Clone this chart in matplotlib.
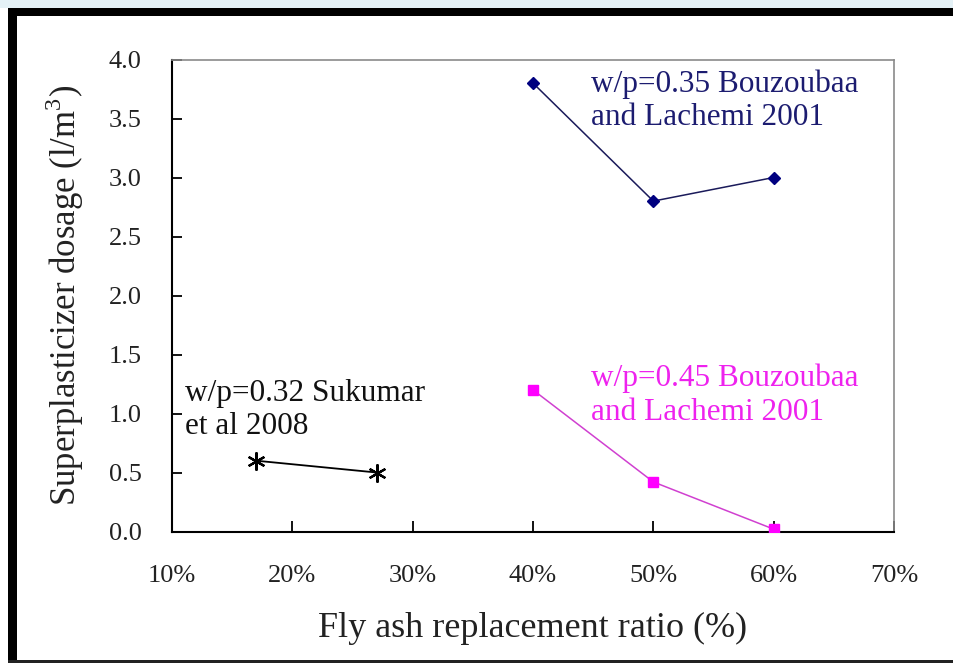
import matplotlib
matplotlib.use("Agg")
import matplotlib.pyplot as plt
from matplotlib.patches import Rectangle

# ---- data ----
sukumar_x = [0.17, 0.27]
sukumar_y = [0.60, 0.50]
bz035_x = [0.40, 0.50, 0.60]
bz035_y = [3.80, 2.80, 3.00]
bz045_x = [0.40, 0.50, 0.60]
bz045_y = [1.20, 0.42, 0.02]
xticks = [0.1, 0.2, 0.3, 0.4, 0.5, 0.6, 0.7]
xtick_labels = ["10%", "20%", "30%", "40%", "50%", "60%", "70%"]
yticks = [0.0, 0.5, 1.0, 1.5, 2.0, 2.5, 3.0, 3.5, 4.0]
ytick_labels = ["0.0", "0.5", "1.0", "1.5", "2.0", "2.5", "3.0", "3.5", "4.0"]
label_035 = "w/p=0.35 Bouzoubaa\nand Lachemi 2001"
label_045 = "w/p=0.45 Bouzoubaa\nand Lachemi 2001"
label_032 = "w/p=0.32 Sukumar\net al 2008"
xlabel = "Fly ash replacement ratio (%)"
ylabel = "Superplasticizer dosage (l/m$^3$)"

plt.rcParams['font.family'] = ['Liberation Serif', 'DejaVu Serif']
plt.rcParams['mathtext.fontset'] = 'custom'
plt.rcParams['mathtext.rm'] = 'Liberation Serif'

W, H = 954, 664
fig = plt.figure(figsize=(W / 100, H / 100), dpi=100)
fig.patch.set_facecolor('white')

# background strip and frame
fig.patches.append(Rectangle((0, 1 - 8 / H), 1, 8 / H, transform=fig.transFigure,
                             facecolor='#e4f1f6', edgecolor='none', zorder=0))
fig.patches.append(Rectangle((8 / W, 1 - 16 / H), 1 - 8 / W, 8 / H, transform=fig.transFigure,
                             facecolor='black', edgecolor='none', zorder=1))
fig.patches.append(Rectangle((8 / W, 1 / H), 9 / W, 1 - 9 / H, transform=fig.transFigure,
                             facecolor='black', edgecolor='none', zorder=1))
fig.patches.append(Rectangle((8 / W, 1 / H), 1 - 8 / W, 3 / H, transform=fig.transFigure,
                             facecolor='#222222', edgecolor='none', zorder=1))

left, right, top, bottom = 172, 894, 59.5, 531.5
ax = fig.add_axes([left / W, 1 - bottom / H, (right - left) / W, (bottom - top) / H])

ax.plot(sukumar_x, sukumar_y, color='black', lw=1.3, marker=(6, 2, 0),
        markersize=13, markeredgewidth=1.6, zorder=3)
ax.plot(bz035_x, bz035_y, color='#1a1a5a', lw=1.1, marker='D', markersize=6,
        markerfacecolor='#000080', markeredgecolor='#000080', zorder=3)
ax.plot(bz045_x, bz045_y, color='#d040d0', lw=1.1, marker='s', markersize=7,
        markerfacecolor='#ff00ff', markeredgecolor='#ff00ff', zorder=3)

ax.text(0.448, 3.65, label_035, color='#1c1c70', fontsize=22.5, va='center', ha='left',
        linespacing=1.22)
ax.text(0.448, 1.157, label_045, color='#ee22ee', fontsize=22.5, va='center', ha='left',
        linespacing=1.22)
ax.text(0.111, 1.03, label_032, color='#111111', fontsize=22.5, va='center', ha='left',
        linespacing=1.22)

ax.set_xlim(0.1, 0.7)
ax.set_ylim(0.0, 4.0)
ax.set_xticks(xticks)
ax.set_xticklabels(xtick_labels)
ax.set_yticks(yticks)
ax.set_yticklabels(ytick_labels)
ax.tick_params(axis='x', direction='in', length=8, width=1.3, pad=24, labelsize=19,
               labelcolor='#222222')
ax.tick_params(axis='y', direction='in', length=7, width=1.3, pad=22, labelsize=19,
               labelcolor='#222222')

for s in ['left', 'bottom']:
    ax.spines[s].set_color('black')
    ax.spines[s].set_linewidth(1.5)
for s in ['top', 'right']:
    ax.spines[s].set_color('#8a8a8a')
    ax.spines[s].set_linewidth(1.2)

ax.set_xlabel(xlabel, fontsize=26, color='#222222')
ax.set_ylabel(ylabel, fontsize=25, color='#222222')
ax.xaxis.set_label_coords(0.5, (bottom - 628) / (bottom - top))
ax.yaxis.set_label_coords((65 - left) / (right - left), 0.5)
ax.xaxis.label.set_va('center')
ax.yaxis.label.set_va('center')

fig.savefig("out.png", dpi=100)
